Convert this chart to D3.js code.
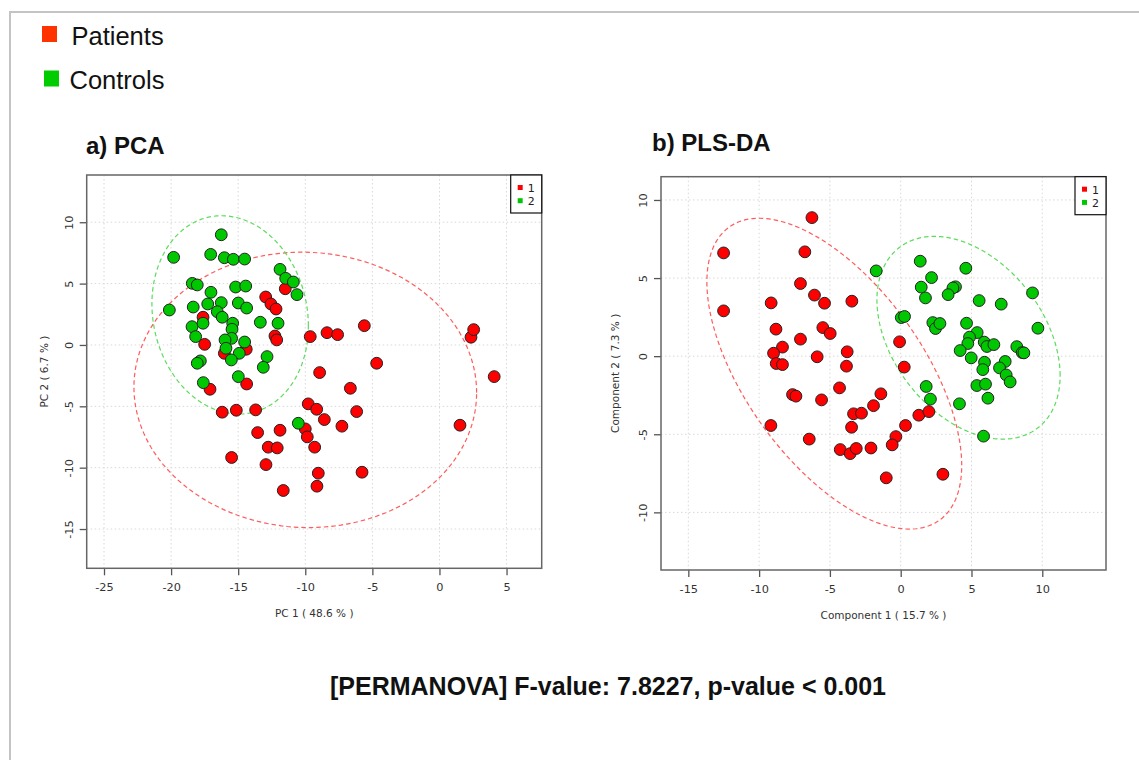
<!DOCTYPE html>
<html><head><meta charset="utf-8">
<script src="https://cdn.jsdelivr.net/npm/d3@7/dist/d3.min.js"></script>
<style>body{margin:0;background:#fff}svg{display:block}</style>
</head><body>
<svg id="c" width="1139" height="760"></svg>
<script>
// ---------------- DATA ----------------
const groupLabels = ["1", "2"];
const legendNames = ["Patients", "Controls"];
const pcaPatients = [[-17.62,2.26],[-17.5,0.05],[-16.03,-0.68],[-14.4,-0.35],[-12.95,3.91],[-12.56,3.34],[-12.18,2.93],[-11.49,4.58],[-12.26,0.73],[-12.13,0.41],[-9.63,0.68],[-8.38,1.0],[-7.59,0.84],[-5.6,1.57],[-4.68,-1.49],[2.35,0.63],[2.55,1.25],[4.08,-2.58],[-8.93,-2.25],[-6.64,-3.53],[-9.78,-4.8],[-9.15,-5.24],[-6.17,-5.43],[-8.58,-6.08],[-7.27,-6.62],[1.53,-6.54],[-10.0,-6.84],[-9.85,-7.49],[-9.3,-8.33],[-9.03,-10.45],[-5.77,-10.37],[-9.13,-11.51],[-17.1,-3.61],[-14.37,-3.18],[-16.19,-5.48],[-15.14,-5.32],[-13.7,-5.29],[-13.55,-7.14],[-11.88,-6.95],[-12.76,-8.33],[-12.09,-8.39],[-15.49,-9.17],[-12.93,-9.75],[-11.64,-11.86]];
const pcaControls = [[-19.81,7.14],[-20.13,2.85],[-16.26,8.98],[-17.05,7.38],[-16.03,7.11],[-15.36,6.98],[-14.52,7.0],[-18.42,5.02],[-18.05,4.89],[-17.03,4.29],[-15.19,4.72],[-14.44,4.8],[-18.35,3.09],[-17.27,3.34],[-16.26,3.45],[-14.99,3.42],[-14.37,3.01],[-16.56,2.71],[-16.19,2.26],[-11.88,6.16],[-11.46,5.43],[-10.89,5.13],[-10.62,4.1],[-18.44,1.49],[-17.62,1.77],[-18.17,0.68],[-15.41,1.77],[-15.46,1.28],[-15.49,0.54],[-15.98,0.41],[-15.91,-0.27],[-14.52,0.24],[-13.35,1.85],[-12.03,1.77],[-14.92,-0.68],[-15.51,-1.22],[-17.82,-1.3],[-18.05,-1.49],[-12.85,-0.95],[-13.13,-1.82],[-14.99,-2.58],[-17.6,-3.07],[-10.52,-6.38]];
const plsPatients = [[-6.27,8.87],[-12.51,6.61],[-6.77,6.68],[-12.51,2.9],[-7.08,4.65],[-6.09,3.91],[-5.38,3.39],[-3.45,3.52],[-9.15,3.41],[-8.81,1.73],[-5.5,1.83],[-4.98,1.45],[-7.08,1.09],[-8.35,0.58],[-8.98,0.19],[-5.9,-0.04],[-3.78,0.28],[-8.79,-0.47],[-8.35,-0.54],[-3.83,-0.64],[-4.32,-2.03],[-7.64,-2.46],[-7.4,-2.56],[-5.59,-2.8],[-3.33,-3.69],[-2.77,-3.65],[-9.17,-4.44],[-3.47,-4.55],[-6.46,-5.31],[-4.27,-5.98],[-3.57,-6.24],[-3.14,-5.91],[-2.1,-5.88],[-1.92,-3.17],[0.25,-0.7],[-1.4,-2.41],[1.28,-3.78],[1.99,-3.55],[0.34,-4.44],[-0.34,-5.15],[-0.6,-5.68],[-1.02,-7.79],[2.98,-7.56],[-0.08,0.92]];
const plsControls = [[-1.73,5.46],[1.38,6.08],[4.6,5.63],[2.18,5.03],[1.45,4.42],[1.75,3.73],[3.87,4.44],[3.69,4.37],[3.35,3.94],[5.54,3.56],[7.1,3.33],[9.31,4.05],[0.04,2.47],[0.27,2.54],[2.27,2.15],[2.46,1.77],[2.77,2.09],[4.65,2.11],[9.69,1.79],[5.4,1.51],[4.86,1.22],[4.74,0.81],[5.9,0.9],[6.09,0.62],[6.58,0.74],[8.2,0.61],[8.58,0.23],[8.7,0.21],[4.2,0.36],[4.98,-0.11],[5.92,-0.39],[5.8,-0.86],[7.38,-0.34],[6.98,-0.75],[7.45,-1.2],[7.73,-1.65],[5.38,-1.88],[5.99,-1.79],[6.16,-2.69],[1.8,-1.94],[2.1,-2.75],[4.15,-3.05],[5.85,-5.12]];
// ellipses: [centerX, centerY, radiusX, radiusY, correlation]
const pcaEllipses = [[-10.0,-3.66,12.77,11.22,-0.02],[-15.6,2.45,5.83,8.08,-0.11]];
const plsEllipses = [[-4.69,-1.12,9.0,9.95,-0.59],[4.79,1.18,6.47,6.49,-0.374]];
const pcaXTicks = [-25,-20,-15,-10,-5,0,5];
const pcaYTicks = [-15,-10,-5,0,5,10];
const plsXTicks = [-15,-10,-5,0,5,10];
const plsYTicks = [-10,-5,0,5,10];
const pcaDomain = {x:[-26.29,7.62], y:[-18.2,13.85]};
const plsDomain = {x:[-16.93,14.5], y:[-13.69,11.49]};
const axisTitles = {pcaX:"PC 1 ( 48.6 % )", pcaY:"PC 2 ( 6.7 % )", plsX:"Component 1 ( 15.7 % )", plsY:"Component 2 ( 7.3 % )"};
const panelTitles = ["a) PCA", "b) PLS-DA"];
const footer = "[PERMANOVA] F-value: 7.8227, p-value < 0.001";

// ---------------- STYLE ----------------
const fillCols = ["#ff0000", "#00c800"];
const ellCols = ["#ff5c5c", "#5cdc5c"];
const legendCols = ["#ff3300", "#00cc00"];
const svg = d3.select("#c");
const sans = "'Liberation Sans', Arial, sans-serif";
const dv = "'DejaVu Sans', sans-serif";

// outer border
svg.append("path").attr("d","M10,1000 L10,12 L1200,12").attr("fill","none").attr("stroke","#c4c4c4").attr("stroke-width",2);

// top legend
legendNames.forEach((n,i)=>{
  const y = i===0 ? 26 : 70.5;
  svg.append("rect").attr("x", i===0?42:44).attr("y", y).attr("width",15).attr("height",16).attr("fill",legendCols[i]);
  svg.append("text").attr("x", i===0?71.5:69.5).attr("y", i===0?45:89).attr("font-family",sans).attr("font-size",25.5).attr("fill","#111").text(n);
});

function panel(cfg){
  const x = d3.scaleLinear().domain(cfg.dom.x).range([cfg.l, cfg.r]);
  const y = d3.scaleLinear().domain(cfg.dom.y).range([cfg.b, cfg.t]);
  const g = svg.append("g");
  // grid
  g.selectAll(".gx").data(cfg.xt).join("line").attr("x1",d=>x(d)).attr("x2",d=>x(d)).attr("y1",cfg.t).attr("y2",cfg.b)
    .attr("stroke","#d8d8d8").attr("stroke-width",1).attr("stroke-dasharray","1.5,2.5");
  g.selectAll(".gy").data(cfg.yt).join("line").attr("y1",d=>y(d)).attr("y2",d=>y(d)).attr("x1",cfg.l).attr("x2",cfg.r)
    .attr("stroke","#d8d8d8").attr("stroke-width",1).attr("stroke-dasharray","1.5,2.5");
  // axes
  const ax = d3.axisBottom(x).tickValues(cfg.xt).tickSize(7).tickPadding(6).tickSizeOuter(0).tickFormat(d=>d);
  const gx = g.append("g").attr("transform",`translate(0,${cfg.b})`).call(ax);
  gx.select(".domain").remove();
  gx.selectAll("line").attr("stroke","#555").attr("stroke-width",1.3);
  gx.selectAll("text").attr("font-family",dv).attr("font-size",11.3).attr("fill","#333").attr("dy","0.9em");
  const ay = d3.axisLeft(y).tickValues(cfg.yt).tickSize(7).tickPadding(0).tickSizeOuter(0).tickFormat(d=>d);
  const gy = g.append("g").attr("transform",`translate(${cfg.l},0)`).call(ay);
  gy.select(".domain").remove();
  gy.selectAll("line").attr("stroke","#555").attr("stroke-width",1.3);
  gy.selectAll("text").attr("font-family",dv).attr("font-size",11.3).attr("fill","#333")
    .attr("text-anchor","middle").attr("dy",null).attr("x",null)
    .attr("transform",`translate(${-cfg.ylab},0) rotate(-90)`).attr("dominant-baseline","central");
  // ellipses
  const ts = d3.range(0, 2*Math.PI, Math.PI/90);
  const line = d3.line().curve(d3.curveLinearClosed);
  cfg.ell.forEach((e,i)=>{
    const [cx,cy,rx,ry,rho] = e;
    const pts = ts.map(t=>[x(cx+rx*Math.cos(t)), y(cy+ry*(rho*Math.cos(t)+Math.sqrt(1-rho*rho)*Math.sin(t)))]);
    g.append("path").attr("d",line(pts)).attr("fill","none").attr("stroke",ellCols[i]).attr("stroke-width",1.2).attr("stroke-dasharray","4.5,3");
  });
  // points
  [cfg.p1, cfg.p2].forEach((arr,i)=>{
    g.append("g").selectAll("circle").data(arr).join("circle")
      .attr("cx",d=>x(d[0])).attr("cy",d=>y(d[1])).attr("r",5.9)
      .attr("fill",fillCols[i]).attr("stroke","#222").attr("stroke-width",1);
  });
  // frame
  g.append("rect").attr("x",cfg.l).attr("y",cfg.t).attr("width",cfg.r-cfg.l).attr("height",cfg.b-cfg.t)
    .attr("fill","none").attr("stroke","#666").attr("stroke-width",1.5);
  // in-plot legend
  const lw = 31, lh = 38;
  g.append("rect").attr("x",cfg.r-lw).attr("y",cfg.t).attr("width",lw).attr("height",lh).attr("fill","#fff").attr("stroke","#111").attr("stroke-width",1.2);
  groupLabels.forEach((lab,i)=>{
    g.append("rect").attr("x",cfg.r-lw+7).attr("y",cfg.t+10+i*13.2).attr("width",5).attr("height",5).attr("fill",fillCols[i]);
    g.append("text").attr("x",cfg.r-lw+17).attr("y",cfg.t+17+i*13.2).attr("font-family",dv).attr("font-size",11).attr("fill","#222").text(lab);
  });
  // axis titles
  g.append("text").attr("x",(cfg.l+cfg.r)/2).attr("y",cfg.b+49).attr("text-anchor","middle")
    .attr("font-family",dv).attr("font-size",10.5).attr("fill","#333").text(cfg.xTitle);
  g.append("text").attr("transform",`translate(${cfg.l-cfg.ytl},${(cfg.t+cfg.b)/2}) rotate(-90)`).attr("text-anchor","middle")
    .attr("font-family",dv).attr("font-size",10.5).attr("fill","#333").text(cfg.yTitle);
  // panel title
  svg.append("text").attr("x",cfg.titleX).attr("y",cfg.titleY).attr("font-family",sans).attr("font-weight","bold")
    .attr("font-size",24).attr("fill","#111").text(cfg.title);
}

panel({l:86.7, r:541.7, t:175, b:568.3, dom:pcaDomain, xt:pcaXTicks, yt:pcaYTicks, ylab:17, ytl:39,
  ell:pcaEllipses, p1:pcaPatients, p2:pcaControls, xTitle:axisTitles.pcaX, yTitle:axisTitles.pcaY,
  title:panelTitles[0], titleX:86, titleY:154});
panel({l:661, r:1106, t:176.7, b:570, dom:plsDomain, xt:plsXTicks, yt:plsYTicks, ylab:18, ytl:42,
  ell:plsEllipses, p1:plsPatients, p2:plsControls, xTitle:axisTitles.plsX, yTitle:axisTitles.plsY,
  title:panelTitles[1], titleX:652, titleY:151});

svg.append("text").attr("x",608).attr("y",695).attr("text-anchor","middle").attr("font-family",sans)
  .attr("font-weight","bold").attr("font-size",25).attr("fill","#111").text(footer);
</script>
</body></html>
